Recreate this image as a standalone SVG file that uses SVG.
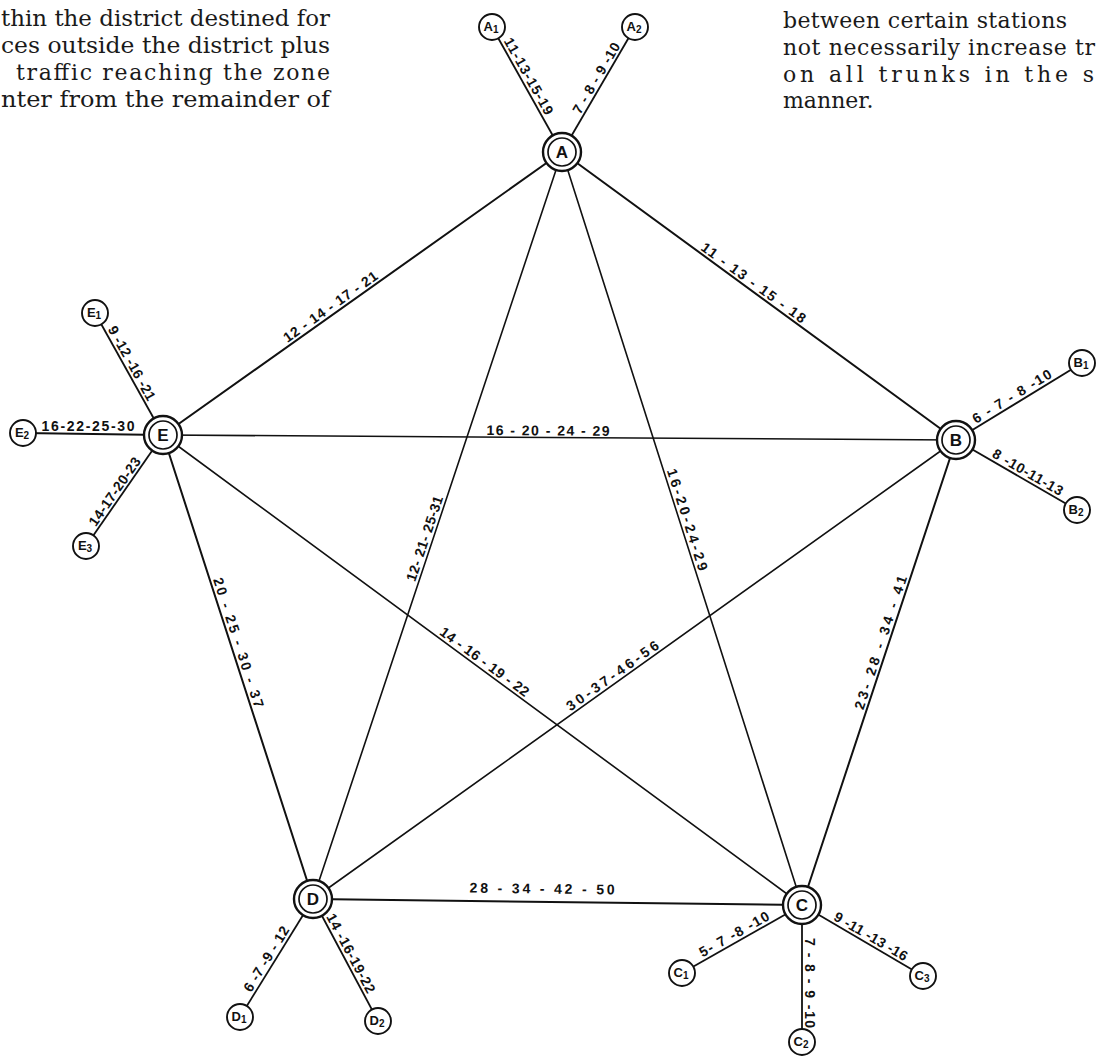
<svg xmlns="http://www.w3.org/2000/svg" width="1097" height="1056" viewBox="0 0 1097 1056">
<style>
.bg{fill:#fff}
.trunk{stroke:#111;stroke-width:2;fill:none;stroke-linecap:round}
.diag{stroke:#111;stroke-width:1.6;fill:none;stroke-linecap:round}
.spur{stroke:#111;stroke-width:1.8;fill:none}
.outer{fill:#fff;stroke:#111;stroke-width:2.4}
.inner{fill:#fff;stroke:#111;stroke-width:1.7}
.small{fill:#fff;stroke:#111;stroke-width:1.9}
.lbl{font-family:"Liberation Sans",Arial,sans-serif;font-weight:bold;font-size:14px;fill:#111}
.nl{font-family:"Liberation Sans",Arial,sans-serif;font-weight:bold;font-size:17px;fill:#111}
.sl{font-family:"Liberation Sans",Arial,sans-serif;font-weight:bold;font-size:13px;fill:#111}
.sub{font-size:10px}
.para{font-family:"DejaVu Serif","Liberation Serif",serif;font-size:22px;fill:#1a1a1a}
</style>
<rect class="bg" x="0" y="0" width="1097" height="1056"/>

<g id="page-text">
<text class="para" x="1" y="26" textLength="329" lengthAdjust="spacingAndGlyphs">thin the district destined for</text>
<text class="para" x="1" y="53" textLength="329" lengthAdjust="spacingAndGlyphs">ces outside the district plus</text>
<text class="para" x="16" y="80" textLength="314" lengthAdjust="spacing">traffic reaching the zone</text>
<text class="para" x="1" y="107" textLength="329" lengthAdjust="spacingAndGlyphs">nter from the remainder of</text>
<text class="para" x="783" y="28" textLength="284" lengthAdjust="spacing">between certain stations</text>
<text class="para" x="783" y="55" textLength="312" lengthAdjust="spacing">not necessarily increase tr</text>
<text class="para" x="783" y="82" textLength="311" lengthAdjust="spacing">on all trunks in the s</text>
<text class="para" x="783" y="108">manner.</text>
</g>

<g id="connectors">
<line class="trunk" x1="562" y1="152" x2="956" y2="440"/>
<line class="trunk" x1="956" y1="440" x2="802" y2="905"/>
<line class="trunk" x1="802" y1="905" x2="313" y2="899"/>
<line class="trunk" x1="313" y1="899" x2="163" y2="435"/>
<line class="trunk" x1="163" y1="435" x2="562" y2="152"/>
<line class="diag" x1="562" y1="152" x2="802" y2="905"/>
<line class="diag" x1="562" y1="152" x2="313" y2="899"/>
<line class="diag" x1="163" y1="435" x2="956" y2="440"/>
<line class="diag" x1="163" y1="435" x2="802" y2="905"/>
<line class="diag" x1="313" y1="899" x2="956" y2="440"/>
<line class="spur" x1="562" y1="152" x2="492" y2="27"/>
<line class="spur" x1="562" y1="152" x2="635" y2="27"/>
<line class="spur" x1="956" y1="440" x2="1082" y2="363"/>
<line class="spur" x1="956" y1="440" x2="1077" y2="510"/>
<line class="spur" x1="802" y1="905" x2="682" y2="973"/>
<line class="spur" x1="802" y1="905" x2="802" y2="1043"/>
<line class="spur" x1="802" y1="905" x2="923" y2="976"/>
<line class="spur" x1="313" y1="899" x2="240" y2="1017"/>
<line class="spur" x1="313" y1="899" x2="378" y2="1021"/>
<line class="spur" x1="163" y1="435" x2="95" y2="313"/>
<line class="spur" x1="163" y1="435" x2="23" y2="433"/>
<line class="spur" x1="163" y1="435" x2="86" y2="546"/>
</g>

<g id="connector-labels">
<text class="lbl" text-anchor="middle" y="-3" transform="translate(335,313) rotate(-35.35)" textLength="112" lengthAdjust="spacing">12 - 14 - 17 - 21</text>
<text class="lbl" text-anchor="middle" y="-3" transform="translate(749,289) rotate(36.16)" textLength="126" lengthAdjust="spacing">11 - 13 - 15 - 18</text>
<text class="lbl" text-anchor="middle" y="-2" transform="translate(548,437.4) rotate(0.36)" textLength="123" lengthAdjust="spacing">16 - 20 - 24 - 29</text>
<text class="lbl" text-anchor="middle" y="-3" transform="translate(680,522) rotate(72.32)" textLength="106" lengthAdjust="spacing">16-20-24-29</text>
<text class="lbl" text-anchor="middle" y="-3" transform="translate(432,541) rotate(-71.57)" textLength="89" lengthAdjust="spacing">12- 21- 25-31</text>
<text class="lbl" text-anchor="middle" y="-3" transform="translate(231,645) rotate(72.08)" textLength="136" lengthAdjust="spacing">20 - 25 - 30 - 37</text>
<text class="lbl" text-anchor="middle" y="-3" transform="translate(480,668) rotate(36.33)" textLength="107" lengthAdjust="spacing">14 - 16 - 19 - 22</text>
<text class="lbl" text-anchor="middle" y="-3" transform="translate(617,682) rotate(-35.52)" textLength="110" lengthAdjust="spacing">30-37-46-56</text>
<text class="lbl" text-anchor="middle" y="-3" transform="translate(888,645) rotate(-71.68)" textLength="140" lengthAdjust="spacing">23- 28 - 34 - 41</text>
<text class="lbl" text-anchor="middle" y="-8" transform="translate(542,901.5) rotate(0.7)" textLength="145" lengthAdjust="spacing">28 - 34 - 42 - 50</text>
<text class="lbl" text-anchor="middle" y="-3" transform="translate(522,80) rotate(60.75)" textLength="86" lengthAdjust="spacing">11-13-15-19</text>
<text class="lbl" text-anchor="middle" y="-3" transform="translate(603,82) rotate(-59.7)" textLength="80" lengthAdjust="spacing">7 - 8 - 9 -10</text>
<text class="lbl" text-anchor="middle" y="-3" transform="translate(125,367) rotate(60.87)" textLength="83" lengthAdjust="spacing">9 -12 -16 -21</text>
<text class="lbl" text-anchor="middle" y="-3" transform="translate(88,434)" textLength="93" lengthAdjust="spacing">16-22-25-30</text>
<text class="lbl" text-anchor="middle" y="-3" transform="translate(121,496) rotate(-55.25)" textLength="80" lengthAdjust="spacing">14-17-20-23</text>
<text class="lbl" text-anchor="middle" y="-3" transform="translate(1016,403) rotate(-31.43)" textLength="90" lengthAdjust="spacing">6 - 7 - 8 -10</text>
<text class="lbl" text-anchor="middle" y="-3" transform="translate(1024,479) rotate(30.05)" textLength="79" lengthAdjust="spacing">8 -10-11-13</text>
<text class="lbl" text-anchor="middle" y="-3" transform="translate(273,963) rotate(-58.26)" textLength="74" lengthAdjust="spacing">6 -7 -9 - 12</text>
<text class="lbl" text-anchor="middle" y="-3" transform="translate(344,957) rotate(61.95)" textLength="88" lengthAdjust="spacing">14 -16-19-22</text>
<text class="lbl" text-anchor="middle" y="-3" transform="translate(738,941) rotate(-29.54)" textLength="78" lengthAdjust="spacing">5- 7 -8 -10</text>
<text class="lbl" text-anchor="middle" y="-3" transform="translate(802,983) rotate(90)" textLength="90" lengthAdjust="spacing">7 - 8 - 9 -10</text>
<text class="lbl" text-anchor="middle" y="-3" transform="translate(867,943) rotate(30.4)" textLength="83" lengthAdjust="spacing">9 -11 -13 -16</text>
</g>

<g id="node-A"><circle class="outer" cx="562" cy="152" r="19"/><circle class="inner" cx="562" cy="152" r="14"/><text class="nl" x="562" y="158" text-anchor="middle">A</text></g>
<g id="node-B"><circle class="outer" cx="956" cy="440" r="19"/><circle class="inner" cx="956" cy="440" r="14"/><text class="nl" x="956" y="446" text-anchor="middle">B</text></g>
<g id="node-C"><circle class="outer" cx="802" cy="905" r="19"/><circle class="inner" cx="802" cy="905" r="14"/><text class="nl" x="802" y="911" text-anchor="middle">C</text></g>
<g id="node-D"><circle class="outer" cx="313" cy="899" r="19"/><circle class="inner" cx="313" cy="899" r="14"/><text class="nl" x="313" y="905" text-anchor="middle">D</text></g>
<g id="node-E"><circle class="outer" cx="163" cy="435" r="19"/><circle class="inner" cx="163" cy="435" r="14"/><text class="nl" x="163" y="441" text-anchor="middle">E</text></g>

<g id="node-A1"><circle class="small" cx="492" cy="27" r="13"/><text class="sl" x="491" y="31" text-anchor="middle">A<tspan class="sub" dy="2">1</tspan></text></g>
<g id="node-A2"><circle class="small" cx="635" cy="27" r="13"/><text class="sl" x="634" y="31" text-anchor="middle">A<tspan class="sub" dy="2">2</tspan></text></g>
<g id="node-B1"><circle class="small" cx="1082" cy="363" r="13"/><text class="sl" x="1081" y="367" text-anchor="middle">B<tspan class="sub" dy="2">1</tspan></text></g>
<g id="node-B2"><circle class="small" cx="1077" cy="510" r="13"/><text class="sl" x="1076" y="514" text-anchor="middle">B<tspan class="sub" dy="2">2</tspan></text></g>
<g id="node-C1"><circle class="small" cx="682" cy="973" r="13"/><text class="sl" x="681" y="977" text-anchor="middle">C<tspan class="sub" dy="2">1</tspan></text></g>
<g id="node-C2"><circle class="small" cx="802" cy="1042" r="13"/><text class="sl" x="801" y="1046" text-anchor="middle">C<tspan class="sub" dy="2">2</tspan></text></g>
<g id="node-C3"><circle class="small" cx="923" cy="976" r="13"/><text class="sl" x="922" y="980" text-anchor="middle">C<tspan class="sub" dy="2">3</tspan></text></g>
<g id="node-D1"><circle class="small" cx="240" cy="1017" r="13"/><text class="sl" x="239" y="1021" text-anchor="middle">D<tspan class="sub" dy="2">1</tspan></text></g>
<g id="node-D2"><circle class="small" cx="378" cy="1021" r="13"/><text class="sl" x="377" y="1025" text-anchor="middle">D<tspan class="sub" dy="2">2</tspan></text></g>
<g id="node-E1"><circle class="small" cx="95" cy="313" r="13"/><text class="sl" x="94" y="317" text-anchor="middle">E<tspan class="sub" dy="2">1</tspan></text></g>
<g id="node-E2"><circle class="small" cx="23" cy="433" r="13"/><text class="sl" x="22" y="437" text-anchor="middle">E<tspan class="sub" dy="2">2</tspan></text></g>
<g id="node-E3"><circle class="small" cx="86" cy="546" r="13"/><text class="sl" x="85" y="550" text-anchor="middle">E<tspan class="sub" dy="2">3</tspan></text></g>
</svg>
